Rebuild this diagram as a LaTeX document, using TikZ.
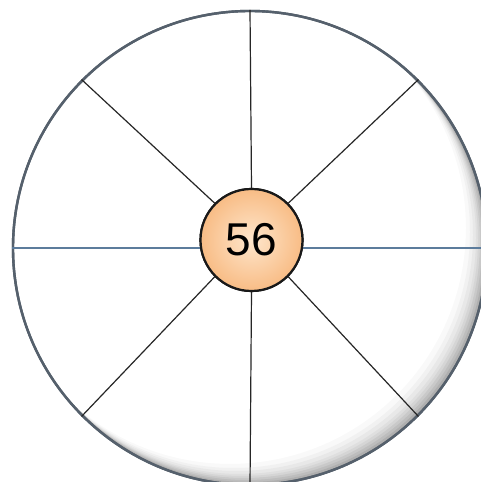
\documentclass[tikz,border=0pt]{standalone}
\usepackage{fontspec}
\setmainfont{Liberation Sans}
\begin{document}
\begin{tikzpicture}[x=1pt,y=1pt,
  rim/.style={draw=rimcol,line width=2.4pt,fill=white,circle,inner sep=0pt,minimum size=474pt},
  spoke/.style={draw=black!85,line width=1.2pt},
  hspoke/.style={draw=steel,line width=1.4pt},
  hubstyle/.style={circle,draw=black!90,line width=2.2pt,minimum size=102pt,inner sep=0pt,
     shade,shading=radial,inner color=hubin,outer color=hubout,font=\fontsize{46}{46}\selectfont}]
\definecolor{rimcol}{HTML}{55606C}
\definecolor{steel}{HTML}{5C7C9C}
\definecolor{hubin}{HTML}{FEE6CC}
\definecolor{hubout}{HTML}{F8BC85}
\useasboundingbox (0,0) rectangle (480,482);
\fill[white] (0,0) rectangle (480,482);
\node[rim] (outer) at (250,234) {};
% inner shadow on lower-right
\begin{scope}
  \clip (250,234) circle (236);
  \foreach \d/\o in {2/0.14,4/0.12,6/0.10,8/0.08,10/0.07,13/0.06,16/0.05,20/0.04}{
    \fill[black!60,opacity=\o,even odd rule] (0,-20) rectangle (500,500) (250-\d,234+\d) circle (236);
  }
\end{scope}
\draw[rimcol,line width=2.4pt] (250,234) circle (237);
\node[hubstyle] (hub) at (251.5,242) {};
\draw[hspoke] (outer.west) -- (outer.east);
\draw[spoke] (outer.north) -- (hub.north);
\draw[spoke] (hub.south) -- (outer.south);
\draw[spoke] (outer.135) -- (hub.135);
\draw[spoke] (outer.45) -- (hub.45);
\draw[spoke] (outer.225) -- (hub.225);
\draw[spoke] (outer.-45) -- (hub.-45);
\node[hubstyle] (hub2) at (hub) {56};
\end{tikzpicture}
\end{document}
